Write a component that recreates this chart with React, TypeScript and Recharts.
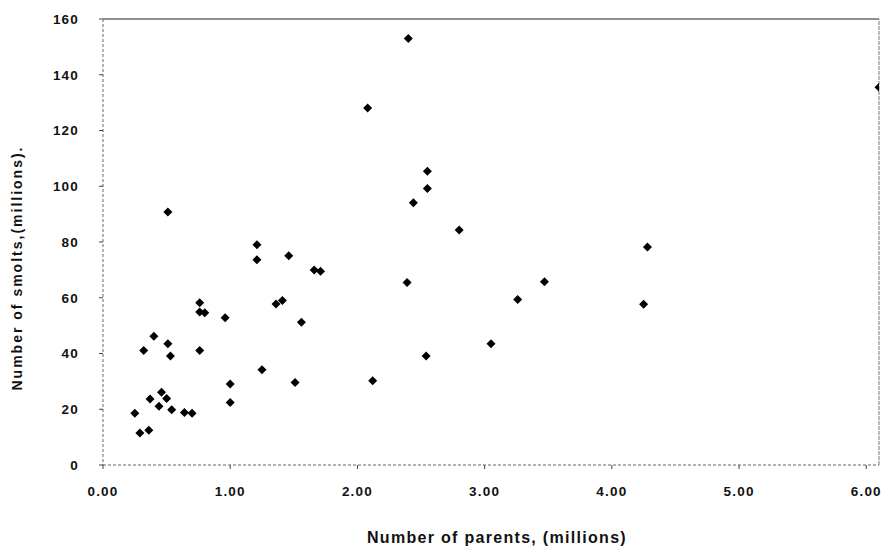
import React from 'react';
import { ScatterChart, Scatter, XAxis, YAxis, ReferenceLine, Label } from 'recharts';

const parents = [0.25, 0.29, 0.36, 0.32, 0.40, 0.37, 0.44, 0.46, 0.50, 0.51, 0.53, 0.54, 0.64, 0.70, 0.76, 0.76, 0.80, 0.76, 0.96, 1.00, 1.00, 1.25, 1.51, 1.56, 1.36, 1.41, 0.51, 1.21, 1.21, 1.46, 2.40, 2.08, 2.55, 2.55, 2.44, 2.80, 1.66, 1.71, 2.39, 2.12, 2.54, 3.05, 3.26, 3.47, 4.28, 4.25, 6.10];
const smolts = [18.6, 11.5, 12.5, 41.1, 46.2, 23.7, 21.1, 26.1, 23.9, 43.5, 39.1, 19.8, 18.8, 18.6, 58.2, 54.9, 54.6, 41.1, 52.8, 29.1, 22.4, 34.2, 29.6, 51.2, 57.8, 59.0, 90.8, 79.0, 73.6, 75.1, 153.0, 128.1, 105.4, 99.2, 94.1, 84.3, 70.0, 69.5, 65.5, 30.2, 39.1, 43.5, 59.4, 65.7, 78.2, 57.7, 135.5];
const xTicks = [0, 1, 2, 3, 4, 5, 6];
const yTicks = [0, 20, 40, 60, 80, 100, 120, 140, 160];
const xTitle = 'Number of parents, (millions)';
const yTitle = 'Number of smolts,(millions).';

const data = parents.map((p, i) => ({ x: p, y: smolts[i] }));

const Diamond = (props: any) => {
  const { cx, cy } = props;
  if (cx == null || cy == null) return null;
  const r = 4.5;
  return <path d={`M${cx},${cy - r}L${cx + r},${cy}L${cx},${cy + r}L${cx - r},${cy}Z`} fill="#000" />;
};

const font = '"Liberation Sans", Arial, sans-serif';
const tickStyle = { fontFamily: font, fontWeight: 700, fontSize: 13.5, fill: '#111', letterSpacing: 1.2 };

export default function App() {
  return (
    <div style={{ position: 'absolute', left: 0, top: 0, width: 888, height: 554, background: '#fff' }}>
      <ScatterChart width={888} height={554} margin={{ top: 19, right: 9, left: 0, bottom: 0 }}>
        <XAxis
          type="number"
          dataKey="x"
          domain={[0, 6.1]}
          ticks={xTicks}
          tickFormatter={(v: number) => v.toFixed(2)}
          height={89}
          tickSize={4}
          tickMargin={17}
          axisLine={{ stroke: '#666', strokeDasharray: '3 2' }}
          tickLine={{ stroke: '#444' }}
          tick={tickStyle}
          allowDataOverflow
        >
          <Label
            content={() => (
              <text x={497} y={543} textAnchor="middle" style={{ fontFamily: font, fontWeight: 700, fontSize: 16, fill: '#111', letterSpacing: 1.3 }}>
                {xTitle}
              </text>
            )}
          />
        </XAxis>
        <YAxis
          type="number"
          dataKey="y"
          domain={[0, 160]}
          ticks={yTicks}
          width={103}
          tickSize={4}
          tickMargin={20}
          axisLine={{ stroke: '#666', strokeDasharray: '3 2' }}
          tickLine={{ stroke: '#444' }}
          tick={tickStyle}
        >
          <Label
            content={() => (
              <text x={22} y={268} textAnchor="middle" transform="rotate(-90 22 268)" style={{ fontFamily: font, fontWeight: 700, fontSize: 14, fill: '#111', letterSpacing: 2 }}>
                {yTitle}
              </text>
            )}
          />
        </YAxis>
        <ReferenceLine y={160} stroke="#222" strokeWidth={1.2} />
        <ReferenceLine x={6.1} stroke="#777" strokeDasharray="4 1" />
        <Scatter data={data} shape={<Diamond />} isAnimationActive={false} />
      </ScatterChart>
    </div>
  );
}
